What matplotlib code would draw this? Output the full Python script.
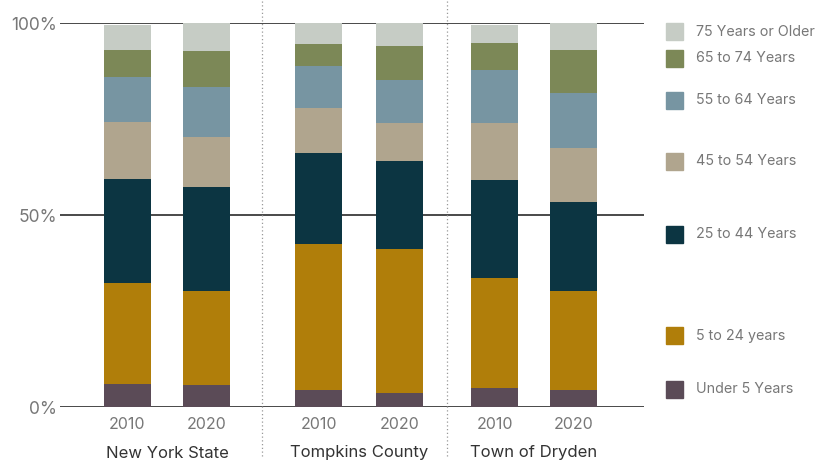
import matplotlib
matplotlib.use("Agg")
import matplotlib.pyplot as plt
from matplotlib.patches import Rectangle
from matplotlib.lines import Line2D
from matplotlib.transforms import blended_transform_factory
import numpy as np

plt.rcParams['font.family'] = ['Inter', 'DejaVu Sans']

groups = ['New York State', 'Tompkins County', 'Town of Dryden']
years = ['2010', '2020', '2010', '2020', '2010', '2020']
age_bands = ['Under 5 Years', '5 to 24 years', '25 to 44 Years', '45 to 54 Years',
             '55 to 64 Years', '65 to 74 Years', '75 Years or Older']
colors = ['#5b4b57', '#b07e0a', '#0c3542', '#b0a58e', '#7795a2', '#7c8857', '#c6ccc5']

# percent share per bar, bottom band first
under5 = [6.1, 5.8, 4.5, 3.7, 5.0, 4.5]
age5_24 = [26.3, 24.5, 38.0, 37.5, 28.7, 25.8]
age25_44 = [27.1, 27.1, 23.7, 22.9, 25.5, 23.2]
age45_54 = [14.8, 13.0, 11.8, 9.9, 14.8, 14.0]
age55_64 = [11.7, 13.0, 10.9, 11.2, 13.8, 14.4]
age65_74 = [7.1, 9.4, 5.7, 8.8, 7.1, 11.1]
age75_up = [6.5, 7.2, 5.4, 6.0, 4.7, 7.0]
series = [under5, age5_24, age25_44, age45_54, age55_64, age65_74, age75_up]

# layout
xpos = np.array([0, 1, 2.418, 3.443, 4.646, 5.646])
seps = [1.703, 4.044]
legend_y = [4.7, 18.6, 45.1, 64.1, 79.9, 90.9, 97.8]

W, H = 820, 463
fig = plt.figure(figsize=(W / 100, H / 100), dpi=100)
ax = fig.add_axes([60 / W, (H - 407.3) / H, (644 - 60) / W, (407.3 - 23.3) / H])

bottom = np.zeros(len(xpos))
for vals, c in zip(series, colors):
    ax.bar(xpos, vals, width=0.595, bottom=bottom, color=c, zorder=3)
    bottom += np.array(vals)

for yv in [0, 50, 100]:
    ax.axhline(yv, color='#3a3a3a', lw=1.3, zorder=1)

ax.set_xlim(-0.854, 6.538)
ax.set_ylim(0, 100)
for s in ax.spines.values():
    s.set_visible(False)
ax.set_yticks([0, 50, 100])
ax.set_yticklabels(['0%', '50%', '100%'], fontsize=12.5, color='#777777')
ax.set_xticks(xpos)
ax.set_xticklabels(years, fontsize=11.5, color='#777777')
ax.tick_params(axis='both', length=0)
ax.tick_params(axis='x', pad=7)
ax.tick_params(axis='y', pad=2)

# group labels
tr = blended_transform_factory(ax.transData, fig.transFigure)
for i, g in enumerate(groups):
    cx = (xpos[2 * i] + xpos[2 * i + 1]) / 2
    fig.text(cx, (H - 453) / H, g, transform=tr, ha='center', va='center',
             fontsize=12, color='#333333')

# dotted separators
for sx in seps:
    fig.add_artist(Line2D([sx, sx], [(H - 456) / H, 1.0], transform=tr,
                          color='#999999', lw=0.9, ls=(0, (1, 2))))

# legend on the right
trl = blended_transform_factory(fig.transFigure, ax.transData)
sq = 17
for yv, lab, c in zip(legend_y, age_bands, colors):
    ax.add_patch(Rectangle((666 / W, yv - sq / 3.84 / 2), sq / W, sq / 3.84,
                           transform=trl, color=c, clip_on=False))
    ax.text(696 / W, yv, lab, transform=trl, ha='left', va='center',
            fontsize=10.3, color='#777777', clip_on=False)

fig.savefig('out.png', dpi=100)
